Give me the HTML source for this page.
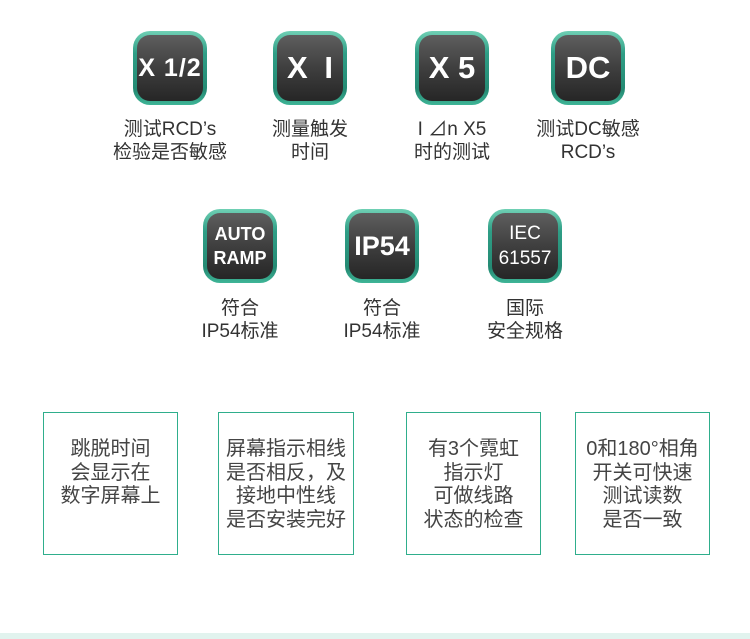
<!DOCTYPE html>
<html><head><meta charset="utf-8"><style>
*{margin:0;padding:0;box-sizing:border-box}
body{width:750px;height:639px;background:#fff;position:relative;overflow:hidden;font-family:"Liberation Sans","Noto Sans CJK SC",sans-serif;color:#3a3a3a}
.ic{position:absolute;width:74px;height:74px;border-radius:17px;background:linear-gradient(180deg,#6fd0b4 0%,#2f9e86 30%,#248a73 80%,#3fb597 100%);padding:4px}
.ic .in{width:100%;height:100%;border-radius:13px;background:linear-gradient(180deg,#5e5e5e 0%,#3c3c3c 55%,#262626 100%);color:#fff;font-weight:bold;display:flex;align-items:center;justify-content:center;text-align:center;font-family:"Liberation Sans",sans-serif}
.lb{position:absolute;width:180px;text-align:center;font-size:19px;line-height:23px;color:#333}
.bx{position:absolute;top:412px;height:143px;border:1.5px solid #2fae8c;text-align:center;font-size:20px;line-height:23.5px;color:#444;padding-top:25px}
</style></head><body>
<div class="ic" style="left:133px;top:31px"><div class="in" style="font-size:25px;letter-spacing:1px">X 1/2</div></div>
<div class="ic" style="left:273px;top:31px"><div class="in" style="font-size:31px;word-spacing:8px">X I</div></div>
<div class="ic" style="left:415px;top:31px"><div class="in" style="font-size:31px">X 5</div></div>
<div class="ic" style="left:551px;top:31px"><div class="in" style="font-size:31px">DC</div></div>
<div class="lb" style="left:80px;top:118px">测试RCD’s<br>检验是否敏感</div>
<div class="lb" style="left:220px;top:118px">测量触发<br>时间</div>
<div class="lb" style="left:362px;top:118px">I ⊿n X5<br>时的测试</div>
<div class="lb" style="left:498px;top:118px">测试DC敏感<br>RCD’s</div>
<div class="ic" style="left:203px;top:209px"><div class="in" style="font-size:18px;line-height:24px">AUTO<br>RAMP</div></div>
<div class="ic" style="left:345px;top:209px"><div class="in" style="font-size:27px">IP54</div></div>
<div class="ic" style="left:488px;top:209px"><div class="in" style="font-size:19px;line-height:25px;font-weight:normal">IEC<br>61557</div></div>
<div class="lb" style="left:150px;top:297px">符合<br>IP54标准</div>
<div class="lb" style="left:292px;top:297px">符合<br>IP54标准</div>
<div class="lb" style="left:435px;top:297px">国际<br>安全规格</div>
<div class="bx" style="left:43px;width:135px">跳脱时间<br>会显示在<br>数字屏幕上</div>
<div class="bx" style="left:218px;width:136px">屏幕指示相线<br>是否相反，及<br>接地中性线<br>是否安装完好</div>
<div class="bx" style="left:406px;width:135px">有3个霓虹<br>指示灯<br>可做线路<br>状态的检查</div>
<div class="bx" style="left:575px;width:135px">0和180°相角<br>开关可快速<br>测试读数<br>是否一致</div>
<div style="position:absolute;left:0;top:633px;width:750px;height:6px;background:#e1f3ee"></div>
</body></html>
